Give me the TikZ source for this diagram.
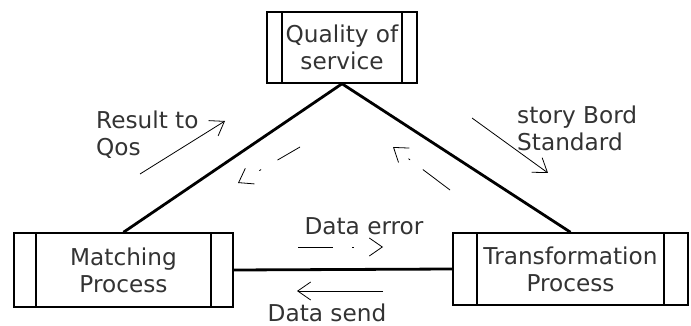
\documentclass[tikz,border=0pt]{standalone}
\usepackage{fontspec}
\setmainfont{DejaVu Sans}
\usetikzlibrary{arrows.meta}

\tikzset{
  procbox/.style={draw, line width=1.5pt, inner sep=0pt, align=center, text=black!80,
    path picture={
      \draw[line width=1.5pt]
        ([xshift=#1]path picture bounding box.north west) -- ([xshift=#1]path picture bounding box.south west)
        ([xshift=-#1]path picture bounding box.north east) -- ([xshift=-#1]path picture bounding box.south east);
    }},
  procbox/.default=20pt,
  link/.style={line width=2.8pt},
  note/.style={line width=0.8pt, -{Straight Barb[length=13pt,width=18pt]}},
  lbl/.style={text=black!80, align=left, inner sep=0pt},
}

\begin{document}
\begin{tikzpicture}[x=1pt, y=-1pt, font=\fontsize{23.2}{27}\selectfont]
    \useasboundingbox (0,0) rectangle (691,326);

    % Boxes
    \node[procbox=15pt, minimum width=150pt, minimum height=71pt] (qos) at (342,47.5) {Quality of\\service};
    \node[procbox=22pt, minimum width=219pt, minimum height=74pt] (match) at (123.5,270) {Matching\\Process};
    \node[procbox=24pt, minimum width=235pt, minimum height=72pt] (trans) at (570.5,269) {Transformation\\Process};

    % Links
    \draw[link] (match.north) -- (qos.south) -- (trans.north);
    \draw[link] (match.east) -- (trans.west);

    % Left side
    \draw[note] (140,174) -- (225,121);
    \node[lbl, anchor=west] (resq) at (96,135) {Result to\\Qos};
    \draw[note, dash pattern=on 26pt off 19pt on 2pt off 40pt] (300,147) -- (238,183);

    % Right side
    \draw[note] (472,118) -- (548,173);
    \node[lbl, anchor=west] (story) at (517,128) {story Bord\\Standard};
    \draw[note, dash pattern=on 34pt off 16pt on 2pt off 40pt] (450,190) -- (393,147);

    % Bottom
    \node[lbl] (derr) at (364,226) {Data error};
    \draw[note, dash pattern=on 35pt off 19pt on 2pt off 40pt] (298,247) -- (383,247);
    \draw[note] (383,291) -- (297,291);
    \node[lbl] (dsend) at (327,313) {Data send};
\end{tikzpicture}
\end{document}
